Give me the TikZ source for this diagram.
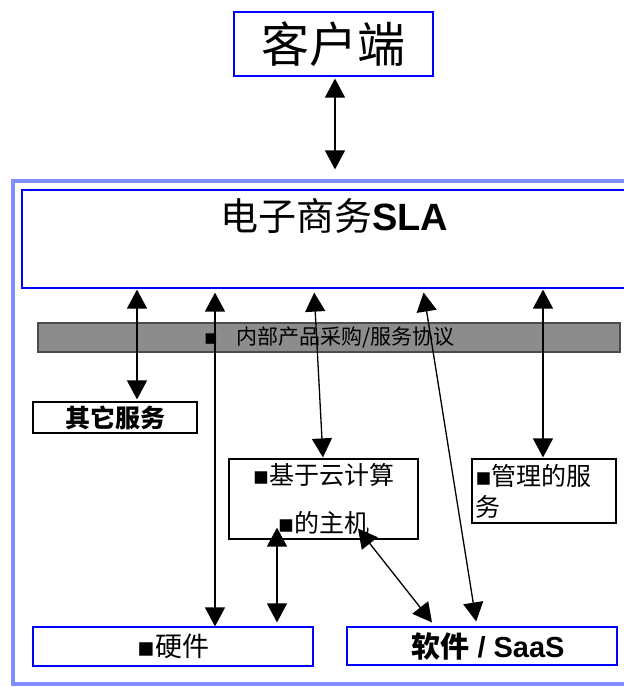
\documentclass[tikz,border=0pt]{standalone}
\usepackage{fontspec}
\setmainfont{Liberation Sans}
\newfontfamily\cjk{Noto Sans CJK SC}
\newfontfamily\bulfont{DejaVu Sans}
\usepackage{tikz}
\usetikzlibrary{arrows.meta}

\definecolor{frameblue}{RGB}{128,140,255}
\definecolor{bargray}{RGB}{140,140,140}
\newcommand{\bul}{{\bulfont ▪}}

\begin{document}
\begin{tikzpicture}[x=1pt,y=-1pt,
    box/.style={draw,line width=1.2pt,inner sep=0pt},
    bluebox/.style={box,draw=blue},
    dbl/.style={{Triangle[length=19pt,width=20pt]}-{Triangle[length=19pt,width=20pt]},line width=1.3pt}]
  \useasboundingbox (0,0) rectangle (623,687);

  \node[bluebox,minimum width=199,minimum height=64,font=\cjk\fontsize{48}{52}\selectfont] (Client) at (333.5,44) {客户端};

  \draw[line width=4.5pt,draw=frameblue] (13,181) rectangle (690,684);
  \node[bluebox,minimum width=668,minimum height=98] (SLA) at (356,239) {};
  \node[font=\fontsize{38}{42}\selectfont] (SLAtext) at (334,216) {{\cjk 电子商务}\textbf{SLA}};

  \node[box,fill=bargray,draw=black!70,minimum width=582,minimum height=29,font=\cjk\fontsize{21}{24}\selectfont] (Bar) at (329,337.5) {\bul\hspace{18pt}内部产品采购/服务协议};

  \node[box,minimum width=164,minimum height=31,font=\cjk\bfseries\fontsize{25}{28}\selectfont] (Other) at (115,417.5) {其它服务\hspace{14pt}};
  \node[box,minimum width=189,minimum height=80,align=center,font=\cjk\fontsize{25}{30}\selectfont] (Cloud) at (323.5,499) {\bul 基于云计算\\[18pt]\bul 的主机};
  \node[box,minimum height=64,inner xsep=3pt,text width=138,align=left,font=\cjk\fontsize{25}{31}\selectfont] (Managed) at (544,491) {\bul 管理的服\\务};

  \node[bluebox,minimum width=280,minimum height=39,font=\cjk\fontsize{27}{30}\selectfont] (HW) at (173,646.5) {\bul 硬件};
  \node[bluebox,minimum width=270,minimum height=38,font=\bfseries\fontsize{29}{30}\selectfont] (SW) at (482,646) {\hspace{12pt}{\cjk 软件} / SaaS};

  \draw[dbl,shorten <=2pt,shorten >=20pt] (335,0 |- Client.south) -- (335,0 |- SLA.north);
  \draw[dbl,shorten <=1pt,shorten >=2pt] (137,0 |- SLA.south) -- (137,0 |- Other.north);
  \draw[dbl,shorten <=4pt] (215,0 |- SLA.south) -- (215,0 |- HW.north);
  \draw[dbl,shorten <=4pt,shorten >=1pt] (314,0 |- SLA.south) -- (323,0 |- Cloud.north);
  \draw[dbl,shorten <=4pt,shorten >=5pt] (423,0 |- SLA.south) -- (477,0 |- SW.north);
  \draw[dbl,shorten <=1pt,shorten >=1pt] (543,0 |- SLA.south) -- (543,0 |- Managed.north);
  \draw[dbl,shorten <=-12pt,shorten >=4pt] (277,0 |- Cloud.south) -- (277,0 |- HW.north);
  \draw[dbl] ([shift={(34.5,-11)}]Cloud.south) -- ([shift={(-50,-4)}]SW.north);
\end{tikzpicture}
\end{document}
